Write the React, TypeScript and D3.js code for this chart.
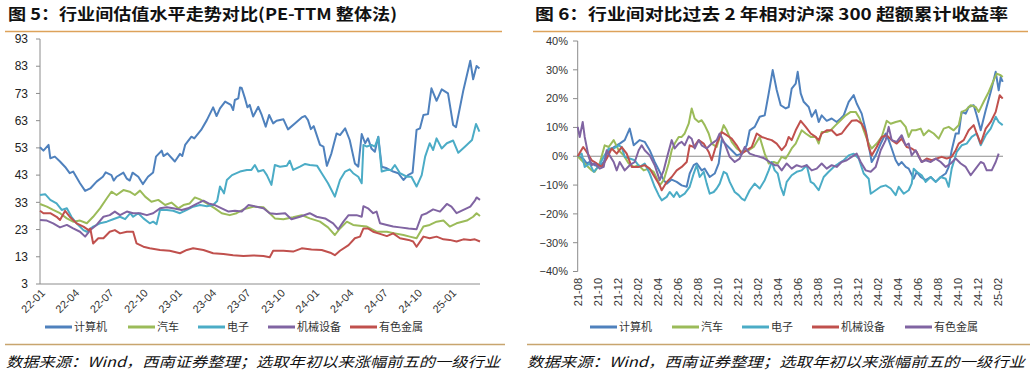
import React from "react";
import * as d3 from "d3";

type P = [number, number];

// ---------- Left chart: PE-TTM (t = months since 2022-01) ----------
const leftXTicks = ["22-01", "22-04", "22-07", "22-10", "23-01", "23-04", "23-07", "23-10", "24-01", "24-04", "24-07", "24-10", "25-01"];
const leftYTicks = [93, 83, 73, 63, 53, 43, 33, 23, 13, 3];

const peComputer: P[] = [[0,53.2],[0.3,52],[0.75,54.1],[0.9,49.2],[1.3,49.8],[1.75,48],[2.2,46],[2.6,43.7],[2.9,44.3],[3.5,40],[3.95,37.2],[4.4,38.1],[4.95,40.6],[5.5,42.4],[5.75,44],[6.25,43],[6.45,41],[6.7,42.4],[7.3,43.9],[7.6,41.7],[7.85,41],[8.1,43.9],[8.6,42.4],[9,39.7],[9.45,42.4],[9.9,44],[10.15,49.8],[10.65,52],[10.8,50],[11.15,51],[11.8,48],[12.25,50.8],[12.45,50],[12.7,54.1],[13.25,57.1],[13.5,56.5],[14.1,59.6],[14.6,63.2],[15.15,67.9],[15.45,64.7],[15.75,67.5],[16.2,70],[16.7,68.8],[16.9,66.9],[17.05,70.6],[17.35,71.2],[17.5,75.2],[17.65,75],[17.95,71],[18.15,67.9],[18.35,68.8],[18.65,64.5],[19.1,68.1],[19.4,65.1],[19.75,60.8],[20.05,65.1],[20.4,62],[20.7,63],[21.3,63.5],[21.7,59.8],[22.3,62],[22.9,64.2],[23.2,64.7],[23.45,63.2],[23.7,59.9],[23.95,61],[24.5,54.1],[24.8,53.5],[25.1,46.4],[25.5,51],[25.95,58.3],[26.25,57.7],[26.7,60.2],[27.1,55.9],[27.55,47.3],[27.85,46.1],[28.15,58.1],[28.45,54.7],[28.7,56.5],[29,52.8],[29.3,51.6],[29.6,57.1],[29.9,46.1],[30.35,45.5],[30.9,44.3],[31.35,43.7],[31.8,41.2],[32.2,43],[32.6,43.9],[32.95,59.6],[33.25,60.2],[33.55,65.1],[33.95,65.4],[34.25,74.9],[34.7,70.3],[35.15,74.5],[35.7,73],[36.15,61.4],[36.4,60.6],[37.05,74.3],[37.65,85],[37.9,78.2],[38.2,83.1],[38.45,82.2]];
const peAuto: P[] = [[0,32.4],[0.6,31.4],[1.15,30.2],[1.75,29],[2.35,27.1],[2.9,25.9],[3.5,26.3],[4.1,25.3],[4.65,27.7],[5.25,30.8],[5.85,34.5],[6.25,36.9],[6.7,35.7],[7.3,37.5],[7.85,36.9],[8.3,35.7],[8.75,37.3],[9.2,35.1],[9.75,33.2],[10.35,33.9],[10.95,32],[11.5,32.9],[12.1,30.8],[12.55,32],[13.1,32.6],[13.55,34.8],[14,34.1],[14.6,32.6],[15.3,30.8],[15.9,29],[16.6,28.3],[17.2,29],[17.8,30.4],[18.65,31.4],[19.55,31.2],[20.1,29],[20.55,27.1],[21.3,26.8],[22.15,27.5],[22.9,28.3],[23.6,27.1],[24.5,25.9],[25.2,23.8],[25.8,21],[26.25,23.4],[26.85,25.9],[27.4,24.7],[28.15,24.3],[28.6,24.1],[29.45,22.2],[30.35,22.2],[31.05,21.6],[31.8,21],[32.35,20.4],[32.95,19.8],[33.55,24.1],[34.1,24.7],[34.7,25.9],[35.3,26.3],[35.85,24.1],[36.45,25.3],[37.35,26.3],[37.9,27.7],[38.2,29],[38.5,28]];
const peElectronics: P[] = [[0,35.7],[0.45,36],[0.9,33.9],[1.45,32.6],[1.9,30.2],[2.35,30.8],[2.75,27.7],[3.2,25.3],[3.8,22.8],[4.1,22.2],[4.65,24.1],[5.25,25.3],[5.85,25.9],[6.4,26.8],[7,27.7],[7.45,26.8],[7.9,29],[8.15,27.7],[8.6,29],[9.05,27.1],[9.6,25.3],[9.9,25.9],[10.2,25],[10.5,30.2],[11.1,30.2],[11.65,29.9],[12.25,29],[12.85,30.2],[13.4,31.4],[14,32],[14.6,31.6],[15.15,32],[15.5,33.5],[15.75,38.8],[16.1,36.3],[16.35,41.2],[16.8,43],[17.5,44.3],[18.1,44.9],[18.5,44.9],[18.8,46.7],[19.1,44.3],[19.55,44.9],[19.85,43],[20.25,39.4],[20.55,46.7],[21,46.1],[21.6,46.4],[21.85,48.3],[22.15,44.9],[22.75,46.1],[23.2,47.1],[23.6,46.7],[24.25,46.4],[24.65,43.7],[25.2,40],[25.8,35.1],[26.25,41.2],[26.7,44.3],[27.1,45.1],[27.4,43.7],[27.85,42.4],[28.15,40],[28.3,54.1],[28.6,53.5],[29,54.1],[29.3,53.5],[29.6,56.9],[29.9,44.3],[30.35,44.9],[30.75,44.9],[31.05,46.7],[31.5,43.7],[32.1,42.4],[32.5,42.4],[32.95,38.8],[33.4,43],[33.7,49.8],[34.1,54.7],[34.4,52.2],[34.7,56.5],[35.15,52.8],[35.6,54.7],[36.15,55.7],[36.6,51.2],[37.2,53.5],[37.8,55.9],[38.15,61.8],[38.45,59]];
const peMachinery: P[] = [[0,26.5],[0.6,26.3],[1.15,25.3],[1.75,23.8],[2.35,24.7],[2.9,23.4],[3.5,22.2],[3.95,20.4],[4.4,22.8],[4.95,24.7],[5.55,27.7],[6.1,28.3],[6.55,29.6],[7,28.3],[7.6,29.6],[8.15,29],[8.75,29],[9.35,28.3],[9.9,29],[10.5,30.8],[11.1,31.2],[11.65,30.8],[12.4,30.2],[12.95,30.8],[13.7,32.4],[14.3,33.6],[14.75,32.6],[15.3,32],[15.9,30.8],[16.5,29.6],[17.05,29.9],[17.65,29.6],[18.25,32],[18.95,31.4],[19.55,30.8],[20.1,29],[20.7,28.7],[21.45,29],[22,26.8],[22.75,27.7],[23.6,29],[24.2,27.7],[24.95,27.1],[25.65,25.3],[26.1,23.1],[26.55,25.9],[27,28.3],[27.7,28.3],[28.15,27.7],[28.3,31.6],[28.7,30.8],[29.15,29],[29.45,29.6],[29.75,25.3],[30.35,24.7],[30.9,24.1],[31.5,23.8],[32.25,23.4],[32.95,23.1],[33.4,28.3],[33.85,29],[34.4,30.4],[35,29.6],[35.6,32.4],[36,31.4],[36.45,29],[37.05,30.2],[37.65,31.4],[38.05,33.6],[38.2,34.8],[38.5,33.9]];
const peMetals: P[] = [[0,29.9],[0.3,29],[0.9,29],[1.45,27.7],[1.75,26.5],[2.2,29.9],[2.6,27.7],[3.2,25.3],[3.8,24.1],[4.25,22.8],[4.4,23.4],[4.65,17.9],[5.1,19.8],[5.55,19.8],[6.1,22.2],[6.55,22.8],[7,21.6],[7.6,22.2],[8.15,22.2],[8.45,17.9],[9.05,16.7],[9.6,16.1],[10.5,15.5],[11.35,15.2],[12.25,14.3],[12.85,15.5],[13.4,16.1],[14.3,15.5],[15.15,14.3],[16.05,14],[16.9,13.6],[17.8,13.3],[18.65,13.5],[19.55,13.3],[20.1,12.8],[20.4,15.2],[21.3,15.2],[22.15,14.9],[22.9,16.1],[23.75,15.7],[24.65,15.5],[25.4,14.5],[25.8,13.6],[26.25,15.2],[27,17.3],[27.55,19.8],[28,20.4],[28.3,23.4],[28.7,23.4],[29.15,22.2],[29.75,21.4],[30.35,20.6],[30.9,21.6],[31.5,19.8],[32.25,19.2],[32.65,18.6],[32.95,16.7],[33.55,20.4],[34.1,19.8],[34.7,20.4],[35.3,19.4],[35.85,19.2],[36.45,18.6],[37.05,19.4],[37.65,19.2],[38.05,19.4],[38.5,18.6]];

// ---------- Right chart: excess return vs CSI 300 (t = months since 2021-08) ----------
const rightXTicks = ["21-08", "21-10", "21-12", "22-02", "22-04", "22-06", "22-08", "22-10", "22-12", "23-02", "23-04", "23-06", "23-08", "23-10", "23-12", "24-02", "24-04", "24-06", "24-08", "24-10", "24-12", "25-02"];
const rightYTicks = [40, 30, 20, 10, 0, -10, -20, -30, -40];

const exComputer: P[] = [[0,0],[0.55,-0.8],[0.9,-2.5],[1.2,-2],[1.7,-3.1],[2.2,-3.5],[2.6,-2],[3,1.5],[3.4,2.7],[3.9,3.8],[4.2,4.4],[4.7,5.6],[5.2,9.6],[5.6,3.8],[6.2,5.6],[6.7,5],[7.2,2.1],[7.7,-2],[8.2,-5.4],[8.6,-8.3],[8.9,-9.5],[9.4,-8.1],[9.9,-8.9],[10.4,-10.1],[10.9,-10.6],[11.2,-6],[11.6,-3.1],[11.9,-2.5],[12.4,-4.9],[12.7,-4.3],[13.2,-7.2],[13.7,-6],[14.1,-2.5],[14.4,5.6],[14.9,3.8],[15.4,2.1],[15.9,0.3],[16.4,0.9],[16.9,3.8],[17.2,9],[17.7,10.2],[18.2,13.7],[18.7,14.2],[19.1,21.8],[19.5,29.9],[19.9,23],[20.3,17.7],[20.8,16.6],[21.1,17.1],[21.4,23.5],[21.8,25.2],[22,29.3],[22.3,21.8],[22.6,18.9],[23.1,17.1],[23.4,13.7],[23.8,16],[24.1,11.9],[24.4,14.2],[24.9,12.3],[25.4,13.1],[25.9,11.9],[26.3,13.1],[26.6,14.2],[27.1,18.9],[27.6,21.2],[27.9,18.3],[28.4,14.8],[28.8,9],[29.1,3.8],[29.4,-2],[29.8,0.3],[30.3,4.4],[30.8,7.9],[31.1,5.6],[31.4,2.7],[31.8,-1.4],[32.1,-3.1],[32.4,-2],[32.8,-3.7],[33.1,-4.3],[33.6,-7.8],[33.9,-5.4],[34.3,-7.2],[34.8,-8.3],[35.3,-7.2],[35.8,-8.9],[36.3,-7.2],[36.8,-6],[37.1,-3.7],[37.4,2.1],[37.8,7.9],[38.1,7.9],[38.4,15.4],[38.8,14.8],[39.1,17.1],[39.6,17.7],[39.9,14.2],[40.3,9],[40.8,16],[41.3,22.3],[41.8,29.3],[42.1,22.9],[42.3,27.5],[42.5,25.8]];
const exAuto: P[] = [[0,0],[0.55,-2],[1.05,-3.7],[1.4,-4.9],[1.7,-5.4],[2.2,-2.5],[2.7,3.8],[3.1,3.2],[3.6,5.6],[4.1,2.1],[4.6,0.3],[5.1,-2.5],[5.6,-3.7],[6.1,-3.1],[6.6,-4.9],[7.1,-4.3],[7.6,-5.4],[8,-8.3],[8.2,-10.1],[8.6,-8.3],[9.1,-2.5],[9.4,2.1],[9.7,4.4],[10.1,6.7],[10.4,6.7],[10.7,7.9],[11.1,11.3],[11.4,16.6],[11.7,13.1],[12.1,11.9],[12.4,12.5],[12.7,10.8],[13.1,7.9],[13.4,4.4],[13.9,3.2],[14.2,6.7],[14.6,10.8],[14.9,9],[15.4,5],[15.9,2.7],[16.4,1.5],[17.1,2.1],[17.6,3.2],[18.2,6.7],[18.7,0.9],[19.1,-2.5],[19.6,-2],[20,-2.5],[20.4,-0.2],[20.8,-0.8],[21.1,0.9],[21.4,2.7],[21.8,4.4],[22.1,6.7],[22.4,9],[22.8,7.9],[23.3,6.7],[23.8,6.7],[24.1,4.4],[24.4,8.4],[24.9,8.4],[25.3,9],[25.8,10.8],[26.3,12.5],[26.8,14.2],[27.3,15.4],[27.8,15.4],[28.2,13.1],[28.6,9],[29.1,4.4],[29.4,2.7],[29.9,4.4],[30.4,6.7],[30.9,12.3],[31.3,11.3],[31.8,11.9],[32.3,12.3],[32.8,10.2],[33.1,6.7],[33.4,9],[33.8,9],[34.3,9.6],[34.6,7.3],[35.1,9],[35.6,7.9],[36.1,6.1],[36.6,9.6],[37.1,10.2],[37.6,9],[38.1,10.8],[38.4,15.4],[38.8,16],[39.3,17.7],[39.8,17.1],[40.1,15.4],[40.6,18.9],[41.1,22.3],[41.6,26.4],[41.9,28.7],[42.3,28.1],[42.5,27.5]];
const exElectronics: P[] = [[0,0],[0.4,0.9],[0.7,-3.7],[1.2,-2.5],[1.6,-5.4],[2.1,-3.5],[2.6,-0.2],[3.1,2.7],[3.6,2.7],[4.1,3.8],[4.4,3.2],[4.7,-0.2],[5.2,-0.8],[5.7,-1.4],[6.2,-3.7],[6.7,-2.5],[7.2,-6],[7.7,-10.6],[8.1,-13.5],[8.4,-15.3],[8.9,-14.1],[9.2,-12.4],[9.6,-14.1],[9.9,-12.4],[10.2,-14.1],[10.7,-13],[11.2,-10.6],[11.6,-6],[11.9,-3.1],[12.2,-7.2],[12.6,-5.4],[12.9,-9.5],[13.2,-13],[13.6,-12.4],[13.9,-11.2],[14.2,-9.5],[14.6,-5.4],[14.9,-6],[15.2,-8.9],[15.7,-12.4],[16.1,-13.5],[16.4,-14.7],[16.7,-15.3],[17.2,-11.8],[17.7,-9.5],[18.2,-11.2],[18.7,-8.3],[19.1,-4.9],[19.4,-2],[19.7,-4.9],[20,-6],[20.3,-10.6],[20.6,-13.5],[20.9,-8.9],[21.4,-6.6],[21.9,-5.4],[22.4,-4.9],[22.9,-3.1],[23.3,-8.9],[23.6,-9.5],[24.1,-11.8],[24.6,-7.2],[25.1,-5.4],[25.6,-3.7],[26.1,-2.5],[26.6,-1.4],[27.1,0.3],[27.6,0.9],[28.1,-0.8],[28.6,-6],[29.1,-7.8],[29.3,-13],[29.8,-11.8],[30.3,-10.6],[30.8,-10.1],[31.3,-11.2],[31.8,-13.5],[32.1,-10.6],[32.6,-13],[33.1,-11.8],[33.4,-9.5],[33.6,-4.3],[33.9,-5.4],[34.4,-6.6],[34.8,-8.9],[35.3,-7.2],[35.8,-8.9],[36.3,-7.2],[36.8,-7.8],[37.1,-10.6],[37.4,-4.3],[37.9,1.5],[38.4,3.8],[38.9,4.4],[39.4,6.7],[39.9,7.9],[40.3,3.8],[40.8,7.3],[41.3,9.6],[41.8,13.7],[42.1,11.9],[42.5,10.8]];
const exMachinery: P[] = [[0,0],[0.55,3.2],[0.9,1.5],[1.4,-1.4],[1.9,-2.5],[2.4,-3.7],[2.9,-0.8],[3.4,2.7],[3.9,0.9],[4.4,3.2],[4.9,0.9],[5.4,-3.7],[6.1,-3.7],[6.7,-3.1],[7.2,-4.3],[7.7,-7.2],[8.2,-10.1],[8.4,-11.8],[8.9,-8.9],[9.4,-7.2],[9.9,-4.9],[10.4,-3.7],[10.9,-2],[11.2,3.8],[11.6,3.2],[12.1,5.6],[12.6,4.4],[13.1,1.5],[13.4,-1.4],[13.9,4.4],[14.4,8.4],[14.9,7.3],[15.4,6.1],[15.9,3.8],[16.4,0.9],[16.9,2.1],[17.4,3.2],[17.9,7.9],[18.4,6.7],[18.9,6.1],[19.4,5.6],[19.9,4.4],[20.4,2.1],[20.8,3.8],[21.1,6.7],[21.4,5.6],[21.8,9],[22.3,12.3],[22.8,10.2],[23.3,7.9],[23.8,6.7],[24.1,5.6],[24.4,7.9],[24.9,9],[25.4,9],[25.9,7.3],[26.4,7.9],[26.9,10.2],[27.4,12.3],[27.9,12.5],[28.4,11.3],[28.8,8.4],[29.1,3.2],[29.4,0.3],[29.9,3.2],[30.4,6.7],[30.9,7.3],[31.4,5.6],[31.9,4.4],[32.4,6.1],[32.9,3.2],[33.4,2.7],[33.9,1.5],[34.4,-2],[34.9,-0.8],[35.4,-1.4],[35.9,-0.8],[36.4,-0.2],[36.9,-0.8],[37.4,-0.2],[37.8,2.1],[38.1,4.4],[38.6,5.6],[39.1,9],[39.6,10.8],[39.9,7.9],[40.3,4.4],[40.8,9.6],[41.3,11.9],[41.8,15.4],[42.2,21.2],[42.5,20]];
const exMetals: P[] = [[0,10.2],[0.2,6.7],[0.5,11.9],[0.7,6.7],[1.1,-0.2],[1.4,-3.1],[1.7,-2.5],[2.2,-4.3],[2.6,-3.7],[2.9,2.1],[3.2,0.3],[3.6,-2],[3.9,-4.9],[4.2,-2],[4.7,-4.9],[5.2,-3.1],[5.7,-2],[6.1,2.1],[6.4,3.8],[6.7,2.1],[7.2,0.3],[7.7,-3.1],[8.2,-8.3],[8.6,-4.9],[8.9,-0.8],[9.4,5.6],[9.7,2.7],[10.1,4.4],[10.4,5],[10.7,3.8],[11.1,6.9],[11.4,6.1],[11.7,2.7],[12.1,5.6],[12.4,3.8],[12.9,2.7],[13.4,4.4],[13.9,5.6],[14.2,7.9],[14.7,4.4],[15.2,-0.2],[15.7,-2],[16.2,-0.8],[16.7,3.2],[17.2,0.9],[17.7,0.3],[18.2,-0.2],[18.7,-0.8],[19.2,-2],[19.7,-3.1],[20,-3.1],[20.4,-4.9],[20.9,-2.5],[21.4,-4.3],[21.9,-3.1],[22.4,-3.7],[22.9,-3.1],[23.4,-4.9],[23.9,-4.3],[24.4,-2.5],[24.9,-4.3],[25.4,-3.1],[25.9,-3.7],[26.4,-2],[26.9,-1.4],[27.4,-0.2],[27.9,0.9],[28.3,-2],[28.8,-4.9],[29.3,-5.4],[29.8,-3.7],[30.3,2.1],[30.8,5.6],[31.1,10.2],[31.4,5.6],[31.9,5],[32.4,7.3],[32.8,3.8],[33.1,4.4],[33.4,0.3],[33.8,2.1],[34.1,-0.2],[34.4,-2],[34.8,-1.4],[35.3,-2],[35.8,-0.8],[36.3,-2],[36.8,-3.7],[37.3,-2.5],[37.8,-0.8],[38.3,-2.5],[38.8,-3.7],[39.3,-6.6],[39.8,-4.3],[40.3,-2],[40.6,-2.5],[40.9,-4.9],[41.4,-4.9],[41.8,-2],[42.1,0.9]];

const C_BLUE = "#4F81BD";
const C_GREEN = "#9BBB59";
const C_CYAN = "#4BACC6";
const C_PURPLE = "#8064A2";
const C_RED = "#C0504D";

const leftSeries = [
  { name: "计算机", data: peComputer, color: C_BLUE },
  { name: "汽车", data: peAuto, color: C_GREEN },
  { name: "电子", data: peElectronics, color: C_CYAN },
  { name: "机械设备", data: peMachinery, color: C_PURPLE },
  { name: "有色金属", data: peMetals, color: C_RED },
];
const rightSeries = [
  { name: "计算机", data: exComputer, color: C_BLUE },
  { name: "汽车", data: exAuto, color: C_GREEN },
  { name: "电子", data: exElectronics, color: C_CYAN },
  { name: "机械设备", data: exMachinery, color: C_RED },
  { name: "有色金属", data: exMetals, color: C_PURPLE },
];

const TICK_FONT = "'Liberation Sans', Arial, sans-serif";
const CJK_FONT = "'Noto Sans CJK SC', sans-serif";
const AXIS = "#8c8c8c";
const RULE_TOP = "#DDA25A";
const RULE_BOTTOM = "#C8A56E";

function Legend({ items, xs, y }: { items: { name: string; color: string }[]; xs: number[]; y: number }) {
  return (
    <g>
      {items.map((s, i) => (
        <g key={s.name}>
          <line x1={xs[i]} x2={xs[i] + 27} y1={y} y2={y} stroke={s.color} strokeWidth={3} />
          <text x={xs[i] + 29} y={y} dy="0.36em" fontSize={11} fontFamily={CJK_FONT} fill="#333">{s.name}</text>
        </g>
      ))}
    </g>
  );
}

export default function App() {
  // left scales
  const xL = d3.scaleLinear().domain([0, 38.5]).range([40, 480]);
  const yL = d3.scaleLinear().domain([3, 93]).range([284, 39]);
  const lineL = d3.line<P>().x((d) => xL(d[0])).y((d) => yL(d[1]));

  // right scales
  const xR = d3.scaleLinear().domain([0, 42.5]).range([577.7, 1002.7]);
  const yR = d3.scaleLinear().domain([-40, 40]).range([271.5, 41]);
  const lineR = d3.line<P>().x((d) => xR(d[0])).y((d) => yR(d[1]));

  const fmtPct = (v: number) => (v < 0 ? "\u2212" + Math.abs(v) : String(v)) + "%";

  return (
    <svg width={1034} height={378} style={{ position: "absolute", left: 0, top: 0, background: "#fff" }}>
      <rect width={1034} height={378} fill="#fff" />

      {/* Titles */}
      <text x={8} y={20} fontSize={16} fontWeight="bold" fontFamily={CJK_FONT} fill="#111" textLength={389} lengthAdjust="spacingAndGlyphs">
        图 5：行业间估值水平走势对比(PE-TTM 整体法)
      </text>
      <text x={535} y={20} fontSize={16} fontWeight="bold" fontFamily={CJK_FONT} fill="#111" textLength={473} lengthAdjust="spacingAndGlyphs">
        图 6：行业间对比过去 2 年相对沪深 300 超额累计收益率
      </text>
      <line x1={5} x2={502} y1={31.5} y2={31.5} stroke={RULE_TOP} strokeWidth={1.6} />
      <line x1={533} x2={1028} y1={31.5} y2={31.5} stroke={RULE_TOP} strokeWidth={1.6} />

      {/* ---------- Left chart ---------- */}
      <g>
        <line x1={40} x2={40} y1={yL(93)} y2={yL(3)} stroke={AXIS} />
        <line x1={40} x2={480} y1={yL(3)} y2={yL(3)} stroke={AXIS} />
        {leftYTicks.map((v) => (
          <g key={v}>
            <line x1={36} x2={40} y1={yL(v)} y2={yL(v)} stroke={AXIS} />
            <text x={28} y={yL(v)} dy="0.35em" textAnchor="end" fontSize={12} fontFamily={TICK_FONT} fill="#222">{v}</text>
          </g>
        ))}
        {leftXTicks.map((lab, i) => (
          <text key={lab} transform={`translate(${xL(i * 3) + 3},${291}) rotate(-45)`} textAnchor="end" dy="0.35em" fontSize={11} fontFamily={TICK_FONT} fill="#333">{lab}</text>
        ))}
        {leftSeries.map((s) => (
          <path key={s.name} d={lineL(s.data) || ""} fill="none" stroke={s.color} strokeWidth={2} strokeLinejoin="round" />
        ))}
      </g>

      {/* ---------- Right chart ---------- */}
      <g>
        <line x1={577.7} x2={577.7} y1={yR(40)} y2={yR(-40)} stroke={AXIS} />
        {rightYTicks.map((v) => (
          <g key={v}>
            <line x1={573} x2={577.7} y1={yR(v)} y2={yR(v)} stroke={AXIS} />
            <text x={568} y={yR(v)} dy="0.35em" textAnchor="end" fontSize={11} fontFamily={TICK_FONT} fill="#333">{fmtPct(v)}</text>
          </g>
        ))}
        <line x1={577.7} x2={1003} y1={yR(0)} y2={yR(0)} stroke={AXIS} strokeWidth={1.2} />
        {rightXTicks.map((lab, i) => (
          <text key={lab} transform={`translate(${xR(i * 2)},${278}) rotate(-90)`} textAnchor="end" dy="0.35em" fontSize={11} fontFamily={TICK_FONT} fill="#333">{lab}</text>
        ))}
        {rightSeries.map((s) => (
          <path key={s.name} d={lineR(s.data) || ""} fill="none" stroke={s.color} strokeWidth={2} strokeLinejoin="round" />
        ))}
      </g>

      {/* Legends */}
      <Legend items={leftSeries} xs={[45, 128, 198, 268, 350]} y={327} />
      <Legend items={rightSeries} xs={[590, 672, 742, 812, 905]} y={327} />

      {/* Bottom rules and sources */}
      <line x1={5} x2={505} y1={344.5} y2={344.5} stroke={RULE_BOTTOM} strokeWidth={1.6} />
      <line x1={527} x2={1030} y1={344.5} y2={344.5} stroke={RULE_BOTTOM} strokeWidth={1.6} />
      <text x={6} y={367} fontSize={14} fontStyle="italic" fontFamily={CJK_FONT} fill="#111" textLength={494} lengthAdjust="spacingAndGlyphs">
        数据来源：Wind，西南证券整理；选取年初以来涨幅前五的一级行业
      </text>
      <text x={527} y={367} fontSize={14} fontStyle="italic" fontFamily={CJK_FONT} fill="#111" textLength={498} lengthAdjust="spacingAndGlyphs">
        数据来源：Wind，西南证券整理；选取年初以来涨幅前五的一级行业
      </text>
    </svg>
  );
}
